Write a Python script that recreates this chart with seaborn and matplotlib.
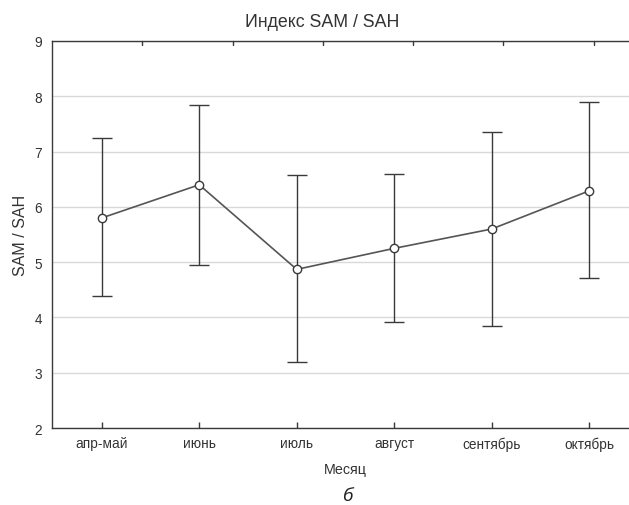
import numpy as np
import pandas as pd
import matplotlib
matplotlib.use("Agg")
import matplotlib.pyplot as plt
import seaborn as sns

months = ["апр-май", "июнь", "июль", "август", "сентябрь", "октябрь"]
mean_vals = [5.80, 6.40, 4.87, 5.25, 5.60, 6.29]
lower_vals = [4.39, 4.95, 3.19, 3.91, 3.84, 4.71]
upper_vals = [7.24, 7.84, 6.58, 6.60, 7.35, 7.89]
y_ticks = [2, 3, 4, 5, 6, 7, 8, 9]

sns.set_theme(style="white")
plt.rcParams["font.family"] = ["Liberation Sans", "DejaVu Sans"]

dark = "#3a3a3a"
text_col = "#333333"

df = pd.DataFrame({"Месяц": months, "val": mean_vals})

fig = plt.figure(figsize=(6.29, 5.06), dpi=100)
ax = fig.add_axes([0.0827, 0.152, 0.933, 0.765])

# horizontal grid
for t in y_ticks:
    ax.axhline(t, color="#d9d9d9", lw=1.0, zorder=0)

# error bars (lower/upper bounds)
xs = np.arange(len(months))
means = np.array(mean_vals)
yerr = np.vstack([means - np.array(lower_vals), np.array(upper_vals) - means])
ax.errorbar(xs, means, yerr=yerr, fmt="none", ecolor=dark, elinewidth=1.0,
            capsize=7, capthick=1.0, zorder=2)

sns.pointplot(data=df, x="Месяц", y="val", ax=ax, errorbar=None,
              color="#555555", markers="o", linestyles="-",
              markersize=6, linewidth=1.2,
              markerfacecolor="white", markeredgecolor=dark,
              markeredgewidth=1.0, zorder=3)

xmin, xmax = -0.51, 5.51
ax.set_xlim(xmin, xmax)
ax.set_ylim(2, 9)
ax.set_yticks(y_ticks)
ax.set_yticklabels([str(t) for t in y_ticks])

ax.tick_params(axis="both", direction="in", length=4, width=1, color=dark,
               labelsize=9.8, labelcolor=text_col)
ax.tick_params(axis="y", pad=7)
ax.tick_params(axis="x", pad=6, bottom=True)

for side in ["left", "bottom", "top", "right"]:
    ax.spines[side].set_color(dark)
    ax.spines[side].set_linewidth(1.0)

# short inward ticks along the top spine, evenly dividing it
step = (xmax - xmin) / 6.5
for k in range(1, 7):
    ax.plot([xmin + k * step] * 2, [1.0, 0.99], transform=ax.get_xaxis_transform(),
            color=dark, lw=1.0, clip_on=False, zorder=4)

ax.set_xlabel("Месяц", fontsize=10.3, color=text_col, labelpad=8)
ax.set_ylabel("SAM / SAH", fontsize=11.5, color=text_col, labelpad=5)
ax.set_title("Индекс SAM / SAH", fontsize=12.8, color=text_col, pad=11, x=0.46)

fig.text(0.553, 0.002, "б", fontsize=14, style="italic", color="#222222",
         ha="center", va="bottom", family=["Open Sans", "DejaVu Sans"])

fig.savefig("out.png", dpi=100)
